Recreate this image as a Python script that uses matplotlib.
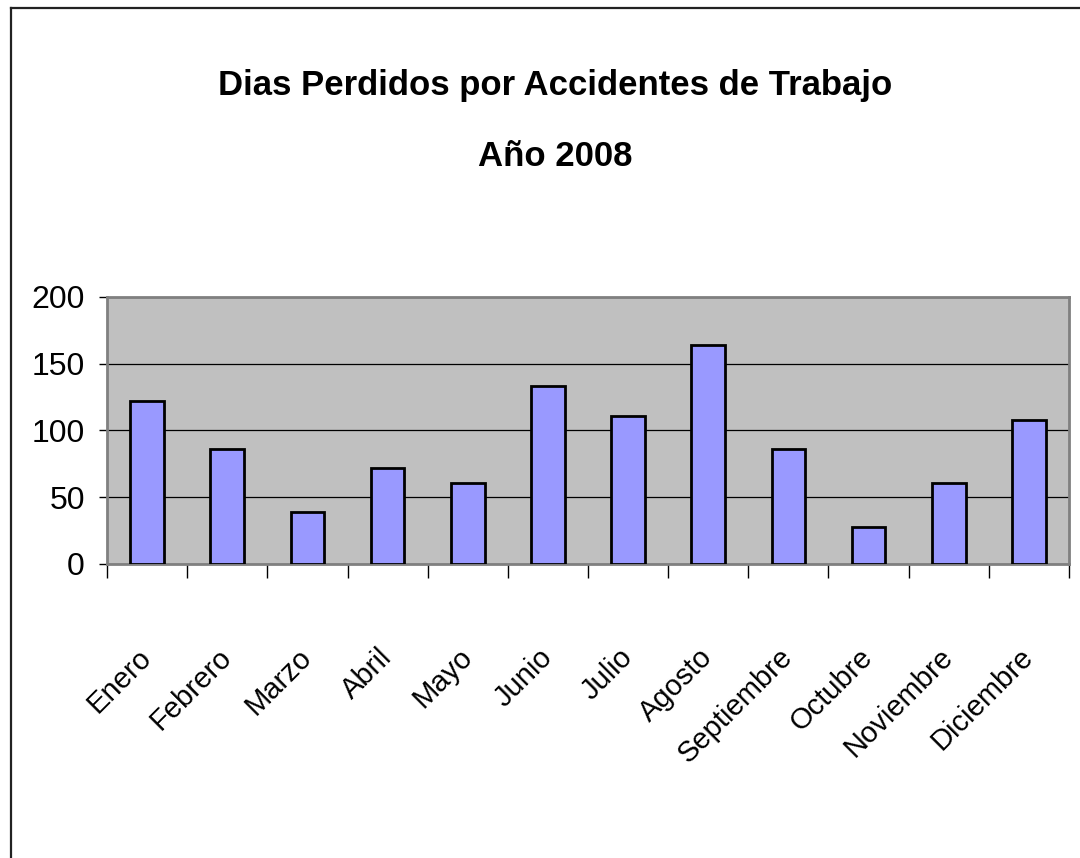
import matplotlib
matplotlib.use("Agg")
import matplotlib.pyplot as plt
from matplotlib.lines import Line2D
import numpy as np

meses = ["Enero", "Febrero", "Marzo", "Abril", "Mayo", "Junio", "Julio",
         "Agosto", "Septiembre", "Octubre", "Noviembre", "Diciembre"]
dias = [122, 86, 39, 72, 61, 133, 111, 164, 86, 28, 61, 108]
yticks = [0, 50, 100, 150, 200]

plt.rcParams["font.family"] = ["Liberation Sans", "DejaVu Sans"]

fig = plt.figure(figsize=(10.8, 8.58), dpi=100)
ax = fig.add_axes([0.0991, 0.3427, 0.8907, 0.3112])

x = np.arange(len(meses))
ax.bar(x, dias, width=0.42, color="#9999ff", edgecolor="black",
       linewidth=2, zorder=3)

ax.set_facecolor("#c0c0c0")
ax.set_xlim(-0.5, len(meses) - 0.5)
ax.set_ylim(0, 200)
ax.set_yticks(yticks)
ax.yaxis.grid(True, color="black", linewidth=0.9, zorder=1)
ax.tick_params(axis="y", length=6, width=1, labelsize=23, pad=10)

ax.set_xticks(x)
ax.set_xticklabels(meses, rotation=45, ha="right", va="center",
                   rotation_mode="anchor", fontsize=21)
ax.set_xticks(np.arange(len(meses) + 1) - 0.5, minor=True)
ax.tick_params(axis="x", which="major", length=0, pad=64)
ax.tick_params(axis="x", which="minor", length=10, width=1)

for s in ax.spines.values():
    s.set_color("#808080")
    s.set_linewidth(2)

fig.text(0.514, 0.9, "Dias Perdidos por Accidentes de Trabajo",
         ha="center", va="center", fontsize=25, fontweight="bold")
fig.text(0.514, 0.818, "Año 2008",
         ha="center", va="center", fontsize=25, fontweight="bold")

# outer chart frame
fig.add_artist(Line2D([0.0105, 0.0105], [0, 0.9907], transform=fig.transFigure,
                      color="#222222", linewidth=1.6))
fig.add_artist(Line2D([0.0105, 1], [0.9907, 0.9907], transform=fig.transFigure,
                      color="#222222", linewidth=1.6))

fig.savefig("out.png", dpi=100)
